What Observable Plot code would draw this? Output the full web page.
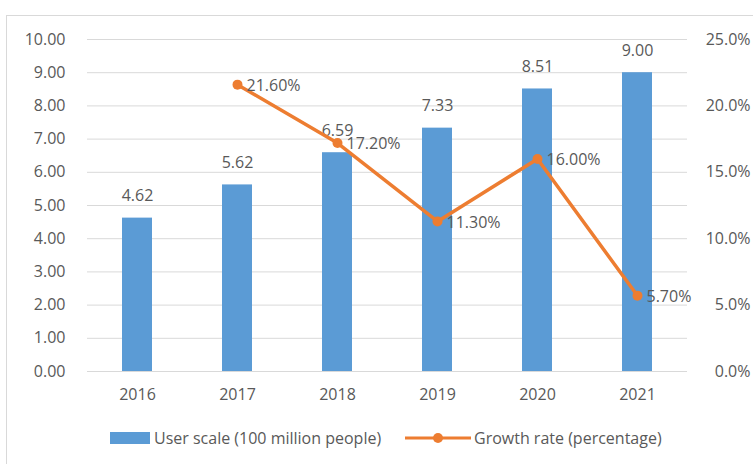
<!DOCTYPE html>
<html>
<head>
<meta charset="utf-8">
<script src="https://cdn.jsdelivr.net/npm/d3@7"></script>
<script src="https://cdn.jsdelivr.net/npm/@observablehq/plot@0.6"></script>
<style>
  html, body { margin: 0; padding: 0; background: #fff; }
  body { width: 753px; height: 464px; position: relative; overflow: hidden; font-family: "Open Sans", sans-serif; }
  #frame { position: absolute; left: 6px; top: 15px; width: 760px; height: 460px; border: 1px solid #d9d9d9; box-sizing: border-box; }
  #chart { position: absolute; left: 0; top: 0; }
  #legend { position: absolute; left: 0; top: 426px; width: 753px; height: 24px; font-size: 16px; color: #595959; }
  .item { position: absolute; top: 0; display: flex; align-items: center; height: 24px; white-space: nowrap; }
</style>
</head>
<body>
<div id="frame"></div>
<div id="chart"></div>
<div id="legend">
  <div class="item" style="left:110px"><span style="display:inline-block;width:40px;height:12px;background:#5B9BD5;margin-right:4px"></span>User scale (100 million people)</div>
  <div class="item" style="left:405px"><svg width="66" height="14" style="margin-right:3px"><line x1="0" y1="7" x2="66" y2="7" stroke="#ED7D31" stroke-width="3"/><circle cx="33" cy="7" r="5" fill="#ED7D31"/></svg>Growth rate (percentage)</div>
</div>
<script>
const years = ["2016", "2017", "2018", "2019", "2020", "2021"];
const userScale = [4.62, 5.62, 6.59, 7.33, 8.51, 9.00];
const rateYears = ["2017", "2018", "2019", "2020", "2021"];
const growthRate = [21.6, 17.2, 11.3, 16.0, 5.7];
const leftTicks = [0, 1, 2, 3, 4, 5, 6, 7, 8, 9, 10];
const rightTicks = [0, 5, 10, 15, 20, 25];

const ratio = 2.5; // 25% on the right axis corresponds to 10 on the left axis
const bars = years.map((y, i) => ({year: y, value: userScale[i]}));
const rates = rateYears.map((y, i) => ({year: y, rate: growthRate[i], yv: growthRate[i] / ratio}));

const textColor = "#595959";
const plot = Plot.plot({
  width: 753,
  height: 410,
  marginLeft: 87,
  marginRight: 66,
  marginTop: 39,
  marginBottom: 39,
  style: {fontFamily: "'Open Sans', sans-serif", fontSize: "16px", color: textColor, background: "transparent"},
  x: {domain: years, paddingInner: 0.7, paddingOuter: 0.35, label: null},
  y: {domain: [0, 10], label: null},
  marks: [
    Plot.gridY(leftTicks, {stroke: "#d9d9d9", strokeOpacity: 1, strokeWidth: 1}),
    Plot.axisY(leftTicks, {anchor: "left", tickSize: 0, tickPadding: 22, tickFormat: d => d.toFixed(2), label: null, fill: textColor}),
    Plot.axisY(rightTicks.map(d => d / ratio), {anchor: "right", tickSize: 0, tickPadding: 0, textAnchor: "end", dx: 63, tickFormat: d => (d * ratio).toFixed(1) + "%", label: null, fill: textColor}),
    Plot.axisX({tickSize: 0, tickPadding: 17, label: null, fill: textColor}),
    Plot.barY(bars, {x: "year", y: "value", fill: "#5B9BD5"}),
    Plot.text(bars, {x: "year", y: "value", text: d => d.value.toFixed(2), dy: -22, fill: textColor}),
    Plot.line(rates, {x: "year", y: "yv", stroke: "#ED7D31", strokeWidth: 3.5}),
    Plot.dot(rates, {x: "year", y: "yv", r: 5, fill: "#ED7D31"}),
    Plot.text(rates, {x: "year", y: "yv", text: d => d.rate.toFixed(2) + "%", textAnchor: "start", dx: 9, dy: 1, fill: textColor})
  ]
});
document.getElementById("chart").appendChild(plot);
</script>
</body>
</html>
